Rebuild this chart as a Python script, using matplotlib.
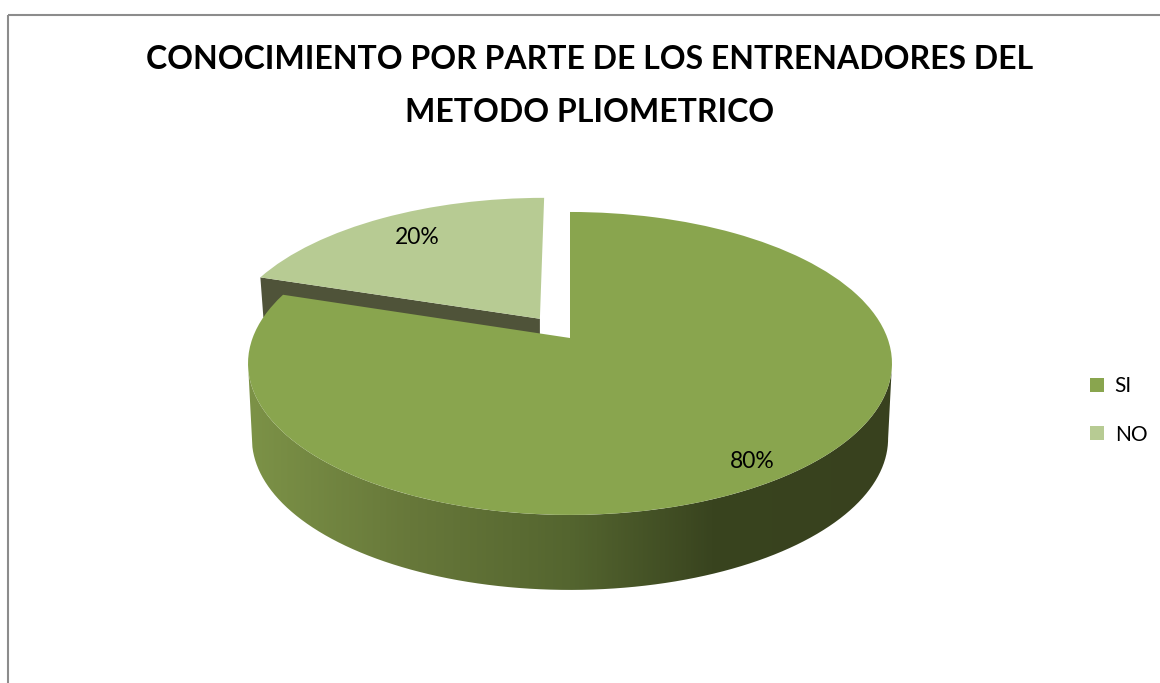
import numpy as np
import matplotlib
matplotlib.use("Agg")
import matplotlib.pyplot as plt
from matplotlib.path import Path
from matplotlib.patches import PathPatch, Patch, Polygon
from matplotlib.transforms import Transform
from matplotlib.colors import LinearSegmentedColormap

TITLE = "CONOCIMIENTO POR PARTE DE LOS ENTRENADORES DEL\nMETODO PLIOMETRICO"
categories = ["SI", "NO"]
values = [80, 20]
explode = [0.0, 0.165]
slice_colors = ["#89a54e", "#b7cb93"]
wall_stops = [(0.0, "#7c9247"), (0.25, "#67783a"), (0.5, "#54652f"), (0.72, "#39441f"), (1.0, "#38411e")]
cut_wall_color = "#4f5339"

plt.rcParams["font.family"] = ["Lato", "DejaVu Sans"]
W, H = 1160, 683
fig = plt.figure(figsize=(W / 100, H / 100), dpi=100, facecolor="white")
ax = fig.add_axes([0, 0, 1, 1])

# perspective projection of the unit pie plane onto the page
CX, CY, AX_, BY, P = 570.0, 338.0, 317.4, 147.2, 0.168
DEPTH, SHRINK = 75.0, 0.988


class Perspective(Transform):
    input_dims = output_dims = 2
    has_inverse = False

    def transform_non_affine(self, xy):
        xy = np.asarray(xy, float)
        d = 1 + P * xy[:, 1]
        return np.column_stack([CX + AX_ * xy[:, 0] / d, CY - BY * xy[:, 1] / d])


persp = Perspective()


def project(x, y):
    return persp.transform_non_affine(np.column_stack([x, y]))


wedges, _ = ax.pie(values, explode=explode, colors=slice_colors, startangle=90,
                   counterclock=False, radius=1.0, normalize=True)
ax.set_aspect("auto")
ax.set_xlim(0, W)
ax.set_ylim(H, 0)
ax.set_xticks([])
ax.set_yticks([])
ax.axis("off")

for w in wedges:
    w.set_transform(persp + ax.transData)
    w.set_linewidth(0)
wedges[0].set_zorder(5)
wedges[1].set_zorder(3)

# angles (clockwise from 12 o'clock) from the values
fr = np.array(values, float) / np.sum(values)
edges = np.concatenate([[0], np.cumsum(fr)]) * 2 * np.pi

# outer wall of the SI slice: visible front part of the rim, silhouette to silhouette
t0 = np.arccos(-P)
t = np.linspace(t0, 2 * np.pi - t0, 300)
top = project(np.sin(t), np.cos(t))
bot = top.copy()
bot[:, 0] = CX + (bot[:, 0] - CX) * SHRINK
bot[:, 1] = bot[:, 1] + DEPTH
wall = Path(np.vstack([top, bot[::-1], top[:1]]))
cmap = LinearSegmentedColormap.from_list("wall", wall_stops)
xmin, xmax = 248, 893
im = ax.imshow(np.linspace(0, 1, 400)[None, :], cmap=cmap, aspect="auto",
               extent=(xmin, xmax, 600, 300), zorder=2, interpolation="bilinear")
clip = PathPatch(wall, transform=ax.transData, facecolor="none", edgecolor="none")
ax.add_patch(clip)
im.set_clip_path(clip)
ax.set_xlim(0, W)
ax.set_ylim(H, 0)

# radial cut wall of the exploded NO slice
mid = (edges[1] + edges[2]) / 2
ox, oy = explode[1] * np.sin(mid), explode[1] * np.cos(mid)
apex = project(np.array([ox]), np.array([oy]))[0]
tip = project(np.array([ox + np.sin(edges[1])]), np.array([oy + np.cos(edges[1])]))[0]
ax.add_patch(Polygon([tip, apex, apex + [0, 40], tip + [3, 40]], closed=True,
                     facecolor=cut_wall_color, edgecolor="none", zorder=2.5))

# percent labels
ax.text(417, 238, f"{values[1]}%", ha="center", va="center", fontsize=16.5, color="black", zorder=10)
ax.text(752, 461, f"{values[0]}%", ha="center", va="center", fontsize=16.5, color="black", zorder=10)

# title
ax.text(590, 86, TITLE, ha="center", va="center", fontsize=23, fontweight="bold",
        color="black", linespacing=2.0, zorder=10)

# legend
ax.legend(handles=[Patch(facecolor=c, edgecolor="none", label=l) for c, l in zip(slice_colors, categories)],
          loc="upper left", bbox_to_anchor=(1082 / W, 1 - 368 / H), frameon=False,
          fontsize=15, handlelength=0.67, handleheight=0.67, handletextpad=0.5, labelspacing=1.36,
          borderpad=0.4, borderaxespad=0)

# chart frame
ax.plot([7.5, 7.5], [H, 14.5], color="#8c8c8c", lw=1.5, zorder=1, solid_capstyle="butt")
ax.plot([7.5, W], [14.5, 14.5], color="#8c8c8c", lw=1.5, zorder=1, solid_capstyle="butt")

fig.savefig("out.png", dpi=100, facecolor="white")
